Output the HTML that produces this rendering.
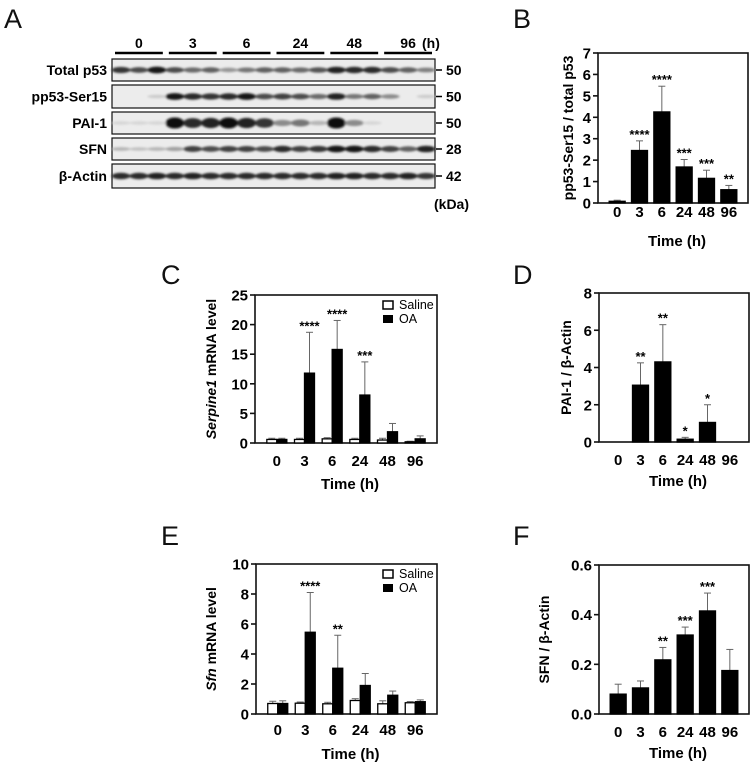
<!DOCTYPE html>
<html><head><meta charset="utf-8"><style>
body{margin:0;background:#fff;width:750px;height:763px;overflow:hidden}
svg{font-family:"Liberation Sans",Arial,sans-serif}
</style></head><body>
<svg id="fig" width="750" height="763" viewBox="0 0 750 763">
<defs><filter id="blur" x="-20%" y="-80%" width="140%" height="260%"><feGaussianBlur stdDeviation="1.3 1.0"/></filter></defs>
<g font-size="27" fill="#111">
<text x="4" y="28">A</text>
<text x="513" y="28">B</text>
<text x="161" y="284">C</text>
<text x="513" y="284">D</text>
<text x="161" y="545">E</text>
<text x="513" y="545">F</text>
</g>
<g id="blot"></g>
<g id="charts"></g>
</svg>
<script>
const NS="http://www.w3.org/2000/svg";
function mk(tag,attrs,parent,text){const e=document.createElementNS(NS,tag);for(const k in attrs)e.setAttribute(k,attrs[k]);if(text!==undefined)e.textContent=text;parent.appendChild(e);return e;}

// ---- blot data ----
const blotRows=["Total p53","pp53-Ser15","PAI-1","SFN","β-Actin"];
const blotKda=["50","50","50","28","42"];
const blotGroups=["0","3","6","24","48","96"];
const intTotal=[.8,.7,.95,.7,.55,.6,.35,.5,.6,.6,.55,.65,.9,.85,.85,.7,.6,.45];
const intPp53=[0,0,.1,.95,.85,.8,.85,.95,.7,.75,.7,.55,.9,.5,.6,.4,0,.1];
const intPai=[.05,.05,.05,1,.85,.9,1,.9,.8,.4,.5,.2,1,.4,.05,0,0,0];
const intSfn=[.2,.15,.2,.3,.75,.7,.75,.75,.7,.85,.75,.8,.95,.95,.85,.75,.6,.9];
const intActin=[.85,.85,.9,.85,.9,.85,.85,.85,.85,.85,.85,.85,.9,.9,.85,.85,.9,.8];
const blotInts=[intTotal,intPp53,intPai,intSfn,intActin];
const rowTops=[59,85,112,138,164], rowHs=[22,23,22,22,24];
(function(){
 const g=document.getElementById('blot');
 const x0=112,x1=435,lw=(x1-x0)/18;
 blotGroups.forEach((lab,i)=>{
  const gx0=x0+i*3*lw+3,gx1=x0+(i+1)*3*lw-3;
  const l=mk('line',{x1:gx0,x2:gx1,y1:53,y2:53,stroke:'#000','stroke-width':2.5},g);
  
  
  const t=mk('text',{x:(gx0+gx1)/2,y:48,'text-anchor':'middle','font-size':14,'font-weight':'bold'},g,lab);
  
  
 });
 const h=mk('text',{x:422,y:48,'font-size':14,'font-weight':'bold'},g,'(h)');
 
 
 blotRows.forEach((name,r)=>{
  const y=rowTops[r],hh=rowHs[r];
  const rr=mk('rect',{x:x0,y:y,width:x1-x0,height:hh,fill:'#ececec',stroke:'#111','stroke-width':1.2},g);
  
  
  const bg=mk('g',{filter:'url(#blur)'},g);
  blotInts[r].forEach((v,i)=>{
   if(v<=0.02)return;
   const c=Math.round(225-215*v);
   const e=mk('ellipse',{cx:x0+(i+.5)*lw,cy:y+hh/2,rx:lw*0.52,ry:1.5+v*(r==2?4:2),fill:`rgb(${c},${c},${c})`},bg);
   
   
  });
  const t=mk('text',{x:107,y:y+hh/2+5,'text-anchor':'end','font-size':14,'font-weight':'bold'},g,name);
  
  
  const k=mk('text',{x:446,y:y+hh/2+5,'font-size':14,'font-weight':'bold'},g,blotKda[r]);
  
  
  mk('line',{x1:436,x2:442,y1:y+hh/2,y2:y+hh/2,stroke:'#000','stroke-width':1.5},g);
 });
 const kd=mk('text',{x:434,y:209,'font-size':14,'font-weight':'bold'},g,'(kDa)');
 
 
})();

// ---- chart data ----
const categories=["0","3","6","24","48","96"];
const bVals=[0.08,2.45,4.25,1.68,1.15,0.62];
const bErr=[0.05,0.45,1.2,0.35,0.38,0.2];
const bStars=["","****","****","***","***","**"];
const bTicks=["0","1","2","3","4","5","6","7"];
const cSaline=[0.6,0.6,0.7,0.6,0.5,0.2];
const cSalineErr=[0.2,0.2,0.2,0.2,0.3,0.1];
const cOA=[0.6,11.8,15.8,8.1,1.9,0.7];
const cOAErr=[0.2,6.9,4.9,5.6,1.4,0.5];
const cStars=["","****","****","***","",""];
const cTicks=["0","5","10","15","20","25"];
const dVals=[0,3.05,4.3,0.15,1.05,0];
const dErr=[0,1.2,2.0,0.1,0.95,0];
const dStars=["","**","**","*","*",""];
const dTicks=["0","2","4","6","8"];
const eSaline=[0.7,0.72,0.68,0.9,0.68,0.75];
const eSalineErr=[0.15,0.08,0.1,0.12,0.2,0.08];
const eOA=[0.7,5.45,3.05,1.9,1.25,0.82];
const eOAErr=[0.18,2.65,2.2,0.8,0.28,0.12];
const eStars=["","****","**","","",""];
const eTicks=["0","2","4","6","8","10"];
const fVals=[0.08,0.105,0.218,0.318,0.415,0.175];
const fErr=[0.04,0.028,0.05,0.032,0.072,0.085];
const fStars=["","","**","***","***",""];
const fTicks=["0.0","0.2","0.4","0.6"];

function chart(o){
 const g=mk('g',{},document.getElementById('charts'));
 
 
 const ymax=parseFloat(o.ticks[o.ticks.length-1]);
 const Y=v=>o.bot-(v/ymax)*(o.bot-o.top);
 const step=(o.right-o.left-16)/categories.length;
 const X=i=>o.left+16+step*(i+0.5)-8;
 mk('rect',{x:o.left,y:o.top,width:o.right-o.left,height:o.bot-o.top,fill:'none',stroke:'#111','stroke-width':1.6},g);
 o.ticks.forEach(t=>{
  const y=Y(parseFloat(t));
  mk('line',{x1:o.left-5,x2:o.left,y1:y,y2:y,stroke:'#111','stroke-width':1.6},g);
  const tx=mk('text',{x:o.left-7,y:y+5.5,'text-anchor':'end','font-size':15,'font-weight':'bold'},g,t);
  
  
 });
 categories.forEach((c,i)=>{
  const tx=mk('text',{x:X(i),y:o.tickY,'text-anchor':'middle','font-size':15,'font-weight':'bold'},g,c);
  
  
 });
 const xt=mk('text',{x:(o.left+o.right)/2+4,y:o.titleY,'text-anchor':'middle','font-size':15,'font-weight':'bold'},g,'Time (h)');
 
 
 const yt=mk('text',{transform:`translate(${o.ytx},${(o.top+o.bot)/2}) rotate(-90)`,'text-anchor':'middle','font-size':14,'font-weight':'bold'},g);
 
 
 if(o.italic){mk('tspan',{'font-style':'italic'},yt,o.italic);mk('tspan',{},yt,o.ylabel);}else yt.textContent=o.ylabel;
 function bar(x,w,v,e,fill){
  const y=Y(v);
  if(e>0){
   const ye=Y(v+e);
   mk('line',{x1:x,x2:x,y1:y,y2:ye,stroke:'#666','stroke-width':1},g);
   mk('line',{x1:x-3.5,x2:x+3.5,y1:ye,y2:ye,stroke:'#666','stroke-width':1},g);
  }
  const r=mk('rect',{x:x-w/2,y:y,width:w,height:Math.max(o.bot-y,0),fill:fill,stroke:'#000','stroke-width':1.3},g);
  
  
  return e>0?Y(v+e):y;
 }
 categories.forEach((c,i)=>{
  let topY;
  if(o.vals){topY=bar(X(i),16,o.vals[i],o.err[i],'#000');}
  else{
   const t1=bar(X(i)-5,10,o.sal[i],o.salErr[i],'#fff');
   topY=bar(X(i)+5,10,o.oa[i],o.oaErr[i],'#000');topY=Math.min(t1,topY);
  }
  if(o.stars[i]){
   const s=mk('text',{x:X(i)+(o.vals?0:5),y:topY-2,'text-anchor':'middle','font-size':13,'font-weight':'bold'},g,o.stars[i]);
   
   
  }
 });
 if(o.legend){
  const lg=mk('g',{},g);
  
  
  const lx=o.right-54,ly=o.top+10;
  mk('rect',{x:lx,y:ly-4,width:10,height:8,fill:'#fff',stroke:'#000','stroke-width':1.5},lg);
  const t1=mk('text',{x:lx+16,y:ly+4,'font-size':12.5},lg,'Saline');
  
  
  mk('rect',{x:lx,y:ly+10,width:10,height:8,fill:'#000'},lg);
  const t2=mk('text',{x:lx+16,y:ly+18,'font-size':12.5},lg,'OA');
  
  
 }
}
chart({name:'chart-b',left:598,right:748,top:53,bot:203,ticks:bTicks,vals:bVals,err:bErr,stars:bStars,tickY:217,titleY:246,ytx:573,ylabel:'pp53-Ser15 / total p53'});
chart({name:'chart-c',left:255,right:437,top:295,bot:443,ticks:cTicks,sal:cSaline,salErr:cSalineErr,oa:cOA,oaErr:cOAErr,stars:cStars,tickY:466,titleY:489,ytx:216,italic:'Serpine1',ylabel:' mRNA level',legend:true});
chart({name:'chart-d',left:599,right:749,top:293,bot:442,ticks:dTicks,vals:dVals,err:dErr,stars:dStars,tickY:465,titleY:486,ytx:571,ylabel:'PAI-1 / β-Actin'});
chart({name:'chart-e',left:256,right:437,top:564,bot:714,ticks:eTicks,sal:eSaline,salErr:eSalineErr,oa:eOA,oaErr:eOAErr,stars:eStars,tickY:735,titleY:759,ytx:216,italic:'Sfn',ylabel:' mRNA level',legend:true});
chart({name:'chart-f',left:599,right:749,top:565,bot:714,ticks:fTicks,vals:fVals,err:fErr,stars:fStars,tickY:737,titleY:758,ytx:549,ylabel:'SFN / β-Actin'});
</script>
</body></html>
